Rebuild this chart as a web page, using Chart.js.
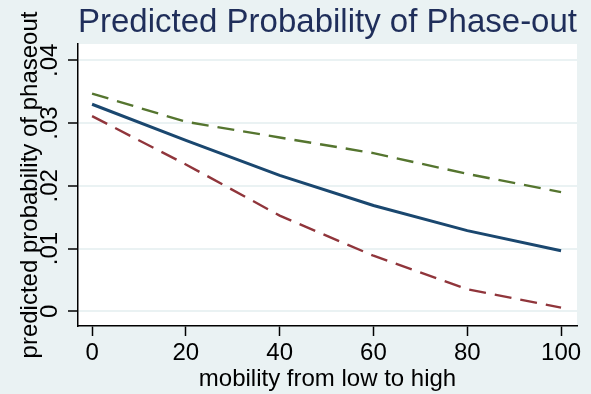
<!DOCTYPE html>
<html>
<head>
<meta charset="utf-8">
<script src="https://cdn.jsdelivr.net/npm/chart.js@4/dist/chart.umd.min.js"></script>
<style>
  body { margin: 0; background: #eaf2f3; }
  canvas { display: block; }
</style>
</head>
<body>
<canvas id="phaseout" width="591" height="394"></canvas>
<script>
// margins at mobility 0..100, fitted value with upper / lower confidence band
var mobility = [0, 20, 40, 60, 80, 100];
var predicted = [0.0330, 0.02725, 0.02165, 0.01685, 0.01285, 0.00965];
var upperCI = [0.0347, 0.0302, 0.0277, 0.0252, 0.0219, 0.0190];
var lowerCI = [0.0311, 0.0234, 0.01525, 0.00885, 0.0035, 0.00058];

var xTicks = [0, 20, 40, 60, 80, 100];
var yTicks = [0, 0.01, 0.02, 0.03, 0.04];
var yTickLabels = ["0", ".01", ".02", ".03", ".04"];

var FONT = "'Liberation Sans', Arial, sans-serif";

function points(ys) {
	return mobility.map(function (x, i) { return { x: x, y: ys[i] }; });
}

// white plot region on the light blue graph region
var plotBg = {
	id: 'plotBg',
	beforeDraw: function (chart) {
		var a = chart.chartArea;
		var ctx = chart.ctx;
		ctx.save();
		ctx.fillStyle = '#ffffff';
		ctx.fillRect(a.left, a.top, a.right - a.left, a.bottom - a.top);
		ctx.restore();
	}
};

var ctx = document.getElementById('phaseout').getContext('2d');
var chart = new Chart(ctx, {
	type: 'line',
	data: {
		datasets: [
			{
				data: points(upperCI),
				borderColor: '#55752f',
				borderWidth: 2.4,
				borderDash: [17, 9]
			},
			{
				data: points(lowerCI),
				borderColor: '#90353b',
				borderWidth: 2.4,
				borderDash: [17, 9]
			},
			{
				data: points(predicted),
				borderColor: '#1a476f',
				borderWidth: 3
			}
		]
	},
	options: {
		responsive: false,
		animation: false,
		layout: { padding: { left: 18, right: 14, top: 0, bottom: 0 } },
		elements: {
			point: { radius: 0 },
			line: { tension: 0, fill: false }
		},
		plugins: {
			legend: { display: false },
			tooltip: { enabled: false },
			title: {
				display: true,
				fullSize: false,
				text: 'Predicted Probability of Phase-out',
				color: '#1f2e5a',
				font: { family: FONT, size: 34, weight: 'normal', lineHeight: 1.2 },
				padding: { top: 2.5, bottom: 0.7 }
			}
		},
		scales: {
			x: {
				type: 'linear',
				min: -3,
				max: 103.4,
				afterBuildTicks: function (scale) {
					scale.ticks = xTicks.map(function (v) { return { value: v }; });
				},
				border: { color: '#000', width: 1.5 },
				grid: {
					drawOnChartArea: false,
					drawTicks: true,
					tickLength: 10,
					tickColor: '#000',
					tickWidth: 1.5
				},
				ticks: {
					color: '#000',
					padding: 3.3,
					maxRotation: 0,
					font: { family: FONT, size: 24, lineHeight: 1.2 }
				},
				title: {
					display: true,
					text: 'mobility from low to high',
					color: '#000',
					font: { family: FONT, size: 24, lineHeight: '16px' },
					padding: { top: 0, bottom: 6.6 }
				}
			},
			y: {
				type: 'linear',
				min: -0.00235,
				max: 0.0426,
				afterBuildTicks: function (scale) {
					scale.ticks = yTicks.map(function (v) { return { value: v }; });
				},
				border: { color: '#000', width: 1.5 },
				grid: {
					color: '#eaf2f3',
					lineWidth: 2,
					drawTicks: true,
					tickLength: 10,
					tickColor: '#000',
					tickWidth: 1.5
				},
				ticks: {
					color: '#000',
					padding: 1,
					minRotation: 90,
					maxRotation: 90,
					crossAlign: 'center',
					font: { family: FONT, size: 24, lineHeight: '1px' },
					callback: function (value, index) { return yTickLabels[index]; }
				},
				title: {
					display: true,
					text: 'predicted probability of phaseout',
					color: '#000',
					font: { family: FONT, size: 24, lineHeight: '24px' },
					padding: { top: 0, bottom: 23 }
				}
			}
		}
	},
	plugins: [plotBg]
});
</script>
</body>
</html>
